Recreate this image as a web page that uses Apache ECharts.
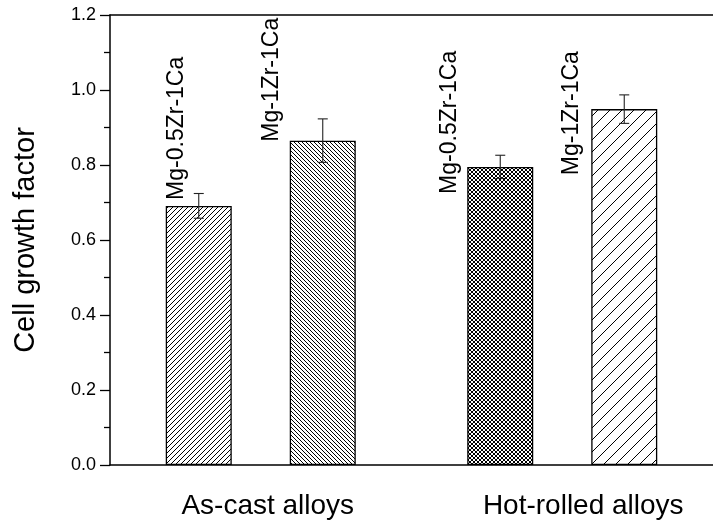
<!DOCTYPE html>
<html>
<head>
<meta charset="utf-8">
<script src="https://cdn.jsdelivr.net/npm/echarts@6/dist/echarts.min.js"></script>
<style>
  html, body { margin: 0; padding: 0; background: #fff; }
  #chart { width: 713px; height: 532px; }
</style>
</head>
<body>
<div id="chart"></div>
<script>
// Processing groups on the x axis
const groups = ['As-cast alloys', 'Hot-rolled alloys'];
// Alloy compositions (one bar per alloy in each group)
const alloyNames = ['Mg-0.5Zr-1Ca', 'Mg-1Zr-1Ca'];
// Mean cell growth factor and its error for each alloy, by group
const meanZr05 = [0.691, 0.795];
const errZr05 = [0.033, 0.031];
const meanZr1 = [0.865, 0.949];
const errZr1 = [0.058, 0.038];
// Y axis tick values
const yTicks = [0.0, 0.2, 0.4, 0.6, 0.8, 1.0, 1.2];

const FONT = '"Liberation Sans", Arial, Helvetica, sans-serif';
const BAR_W = 66;          // bar width in px
const BAR_GAP = 58;        // gap between the two bars of a group in px
const HALF_PITCH = (BAR_W + BAR_GAP) / 2;

// Hatch fill built on a small repeating canvas tile
function hatch(period, dirs, lw) {
  const c = document.createElement('canvas');
  c.width = c.height = period;
  const g = c.getContext('2d');
  g.fillStyle = '#fff';
  g.fillRect(0, 0, period, period);
  g.strokeStyle = '#000';
  g.lineWidth = lw;
  dirs.forEach(function (d) {
    g.beginPath();
    for (let k = -1; k <= 1; k++) {
      if (d === '/') {
        g.moveTo(k * period - 1, period + 1);
        g.lineTo(k * period + period + 1, -1);
      } else {
        g.moveTo(k * period - 1, -1);
        g.lineTo(k * period + period + 1, period + 1);
      }
    }
    g.stroke();
  });
  return { image: c, repeat: 'repeat' };
}

// Fill for each bar: [group][alloy]
const fills = [
  [hatch(5, ['/'], 1), hatch(4, ['\\'], 1)],
  [hatch(4, ['/', '\\'], 1), hatch(12, ['/'], 1)]
];

const means = [meanZr05, meanZr1];
const errs = [errZr05, errZr1];

// Rotated alloy name placement: [alloy][group] -> x shift from bar centre (px), value at text start
const namePlacement = [
  [{ dx: -22, y0: 0.707 }, { dx: -51, y0: 0.723 }],
  [{ dx: -51, y0: 0.862 }, { dx: -53, y0: 0.773 }]
];

const barSeries = alloyNames.map(function (name, a) {
  return {
    name: name,
    type: 'bar',
    barWidth: BAR_W,
    barGap: (BAR_GAP / BAR_W * 100).toFixed(1) + '%',
    data: means[a].map(function (v, gi) {
      return {
        value: v,
        itemStyle: { color: fills[gi][a], borderColor: '#000', borderWidth: 1.3 }
      };
    }),
    z: 2
  };
});

const errData = [];
alloyNames.forEach(function (name, a) {
  means[a].forEach(function (v, gi) {
    errData.push([gi, v, errs[a][gi], a === 0 ? -1 : 1]);
  });
});

const nameData = [];
alloyNames.forEach(function (name, a) {
  groups.forEach(function (g, gi) {
    const p = namePlacement[a][gi];
    nameData.push([gi, p.y0, a === 0 ? -1 : 1, p.dx, a]);
  });
});

const chart = echarts.init(document.getElementById('chart'), null, { renderer: 'canvas' });

chart.setOption({
  animation: false,
  backgroundColor: '#fff',
  grid: { left: 110, right: 0, top: 15, bottom: 67 },
  xAxis: [
    {
      type: 'category',
      data: groups.map(function (g, i) {
        return { value: g, textStyle: { padding: i === 0 ? [0, 0, 0, 14] : [0, 0, 0, 42] } };
      }),
      position: 'bottom',
      axisLine: { lineStyle: { color: '#000', width: 1.5 } },
      axisTick: { show: false },
      axisLabel: { color: '#000', fontSize: 28, fontFamily: FONT, margin: 27 }
    },
    {
      type: 'category',
      data: groups,
      position: 'top',
      axisLine: { lineStyle: { color: '#000', width: 1.5 } },
      axisTick: { show: false },
      axisLabel: { show: false }
    }
  ],
  yAxis: {
    type: 'value',
    min: yTicks[0],
    max: yTicks[yTicks.length - 1],
    interval: 0.2,
    name: 'Cell growth factor',
    nameLocation: 'middle',
    nameGap: 70,
    nameTextStyle: { color: '#000', fontSize: 29, fontFamily: FONT },
    axisLine: { show: true, lineStyle: { color: '#000', width: 1.5 } },
    axisTick: { show: true, length: 10, lineStyle: { color: '#000', width: 1.3 } },
    minorTick: { show: true, splitNumber: 2, length: 6, lineStyle: { color: '#000', width: 1.3 } },
    splitLine: { show: false },
    axisLabel: {
      color: '#000', fontSize: 18, fontFamily: FONT, margin: 14,
      formatter: function (v) { return v.toFixed(1); }
    }
  },
  series: barSeries.concat([
    {
      type: 'custom',
      name: 'error',
      z: 5,
      renderItem: function (params, api) {
        const cat = api.value(0), v = api.value(1), e = api.value(2), side = api.value(3);
        const x = api.coord([cat, v])[0] + side * HALF_PITCH;
        const yt = api.coord([cat, v + e])[1];
        const yb = api.coord([cat, v - e])[1];
        const cap = 5;
        const st = { stroke: '#222', lineWidth: 1.1 };
        return {
          type: 'group',
          children: [
            { type: 'line', shape: { x1: x, y1: yt, x2: x, y2: yb }, style: st },
            { type: 'line', shape: { x1: x - cap, y1: yt, x2: x + cap, y2: yt }, style: st },
            { type: 'line', shape: { x1: x - cap, y1: yb, x2: x + cap, y2: yb }, style: st }
          ]
        };
      },
      data: errData
    },
    {
      type: 'custom',
      name: 'alloy names',
      z: 6,
      renderItem: function (params, api) {
        const cat = api.value(0), y0 = api.value(1), side = api.value(2), dx = api.value(3);
        const a = api.value(4);
        const p = api.coord([cat, y0]);
        return {
          type: 'text',
          x: p[0] + side * HALF_PITCH + dx,
          y: p[1],
          rotation: Math.PI / 2,
          style: {
            text: alloyNames[a],
            fill: '#000',
            font: '23px ' + FONT,
            textAlign: 'left',
            textVerticalAlign: 'middle'
          }
        };
      },
      data: nameData
    }
  ])
});
</script>
</body>
</html>
